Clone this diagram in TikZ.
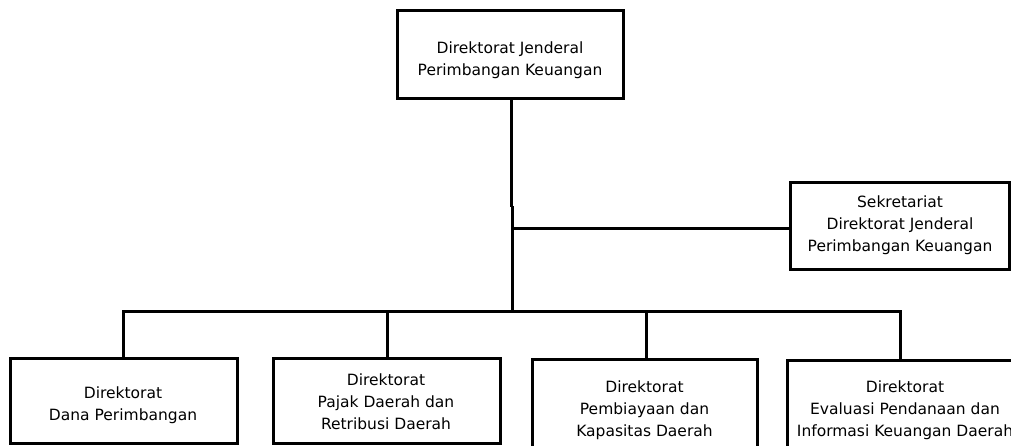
\documentclass[tikz,border=0pt]{standalone}
\usepackage{fontspec}
\setmainfont{DejaVu Sans}
\begin{document}
\begin{tikzpicture}[x=1pt,y=-1pt,
  box/.style={draw=black, line width=3pt, rectangle, inner sep=0pt},
  lbl/.style={align=center, font=\fontsize{15.5}{22}\selectfont, text=black, inner sep=0pt},
  conn/.style={draw=black, line width=3pt}]
\useasboundingbox (0,0) rectangle (1011,445);
\clip (0,0) rectangle (1011,445);
\fill[white] (0,0) rectangle (1011,445);
% boxes
\node[box, minimum width=226pt, minimum height=88pt] (top) at (510,54) {};
\node[box, minimum width=219pt, minimum height=87pt] (sek) at (899.5,225.5) {};
\node[box, minimum width=227pt, minimum height=85pt] (b1) at (123.5,400.5) {};
\node[box, minimum width=227pt, minimum height=85pt] (b2) at (386.5,400.5) {};
\node[box, minimum width=225pt, minimum height=101pt] (b3) at (644.5,409.5) {};
\node[box, minimum width=236pt, minimum height=100pt] (b4) at (905,410) {};
% texts
\node[lbl] (ttop) at (510,60) {Direktorat Jenderal\\Perimbangan Keuangan};
\node[lbl] (tsek) at (900,225.5) {Sekretariat\\Direktorat Jenderal\\Perimbangan Keuangan};
\node[lbl] (tb1) at (123,405.5) {Direktorat\\Dana Perimbangan};
\node[lbl] (tb2) at (386,402) {Direktorat\\Pajak Daerah dan\\Retribusi Daerah};
\node[lbl] (tb3) at (644.5,410) {Direktorat\\Pembiayaan dan\\Kapasitas Daerah};
\node[lbl] (tb4) at (905,410) {Direktorat\\Evaluasi Pendanaan dan\\Informasi Keuangan Daerah};
% junction coordinates
\coordinate (j1) at (511,207);
\coordinate (j2) at (512.5,206);
\coordinate (j3) at (512.5,228);
\coordinate (bus) at (512.5,311);
\coordinate (busL) at (123,311);
\coordinate (busR) at (900,311);
% connectors
\draw[conn] (top.south -| j1) -- (j1);
\draw[conn] (j2) -- (bus);
\draw[conn] (j3) -- (j3 -| sek.west);
\draw[conn] (busL |- b1.north) -- (busL) -- (busR) -- (busR |- b4.north);
\draw[conn] (387,311) coordinate (d2) -- (d2 |- b2.north);
\draw[conn] (646,311) coordinate (d3) -- (d3 |- b3.north);
\end{tikzpicture}
\end{document}
